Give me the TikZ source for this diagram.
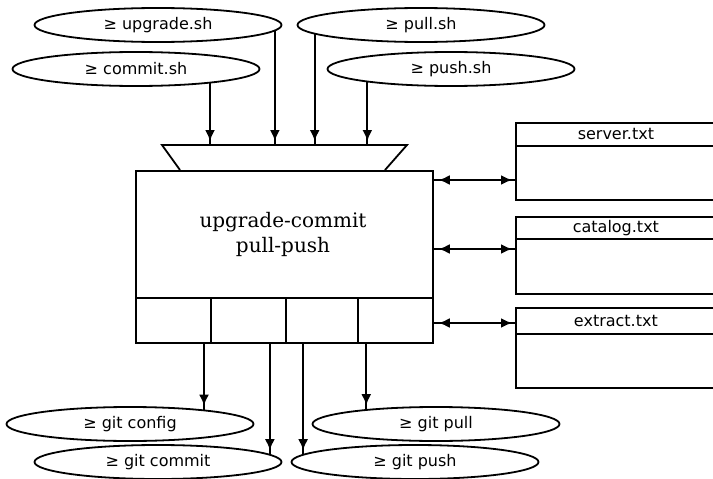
\documentclass[tikz,border=0pt]{standalone}
\usepackage{fontspec}
\usetikzlibrary{shapes.geometric,arrows.meta}
\newfontfamily\lblfont{DejaVu Sans}
\newfontfamily\titlefont{DejaVu Serif}
\begin{document}
\begin{tikzpicture}[x=1pt,y=-1pt,line width=1.8pt,
  script/.style={ellipse,draw,minimum width=247pt,minimum height=34pt,inner sep=0pt,
    font=\lblfont\fontsize{16}{18}\selectfont},
  box/.style={draw,rectangle,inner sep=0pt,anchor=north west},
  cell/.style={box,minimum height=45pt},
  hdr/.style={box,minimum width=200pt,font=\lblfont\fontsize{16}{18}\selectfont},
  body/.style={box,minimum width=200pt},
  arr/.style={draw,postaction={draw,-{Latex[length=11pt,width=10pt]},shorten >=4pt}},
  biarr/.style={draw,postaction={draw,{Latex[length=11pt,width=10pt]}-{Latex[length=11pt,width=10pt]},
    shorten <=5pt,shorten >=3pt}}]
\useasboundingbox (0,0) rectangle (713,479);
\clip (0,0) rectangle (713,479);

% shell scripts feeding the tool
\node[script] (up) at (158,25) {≥ upgrade.sh};
\node[script] (cm) at (136,69) {≥ commit.sh};
\node[script] (pl) at (421,25) {≥ pull.sh};
\node[script] (ps) at (451,69) {≥ push.sh};

% main component with its input funnel and output cells
\node[box,minimum width=297pt,minimum height=127pt] (main) at (135,170) {};
\node[align=center,font=\titlefont\fontsize{20}{25}\selectfont] (title) at (283,234)
  {upgrade-commit\\pull-push};
\coordinate (tl) at (162,145);
\coordinate (tr) at (407,145);
\coordinate (bl) at (180,170);
\coordinate (br) at (385,170);
\draw (bl) -- (tl) -- (tr) -- (br);

\node[cell,minimum width=75pt] (c1) at (135,297) {};
\node[cell,minimum width=75pt] (c2) at (210,297) {};
\node[cell,minimum width=72pt] (c3) at (285,297) {};
\node[cell,minimum width=75pt] (c4) at (357,297) {};

% data files
\node[hdr,minimum height=23pt] (srvh) at (515,122) {server.txt};
\node[body,minimum height=54pt] (srvb) at (515,145) {};
\node[hdr,minimum height=22pt] (cath) at (515,216) {catalog.txt};
\node[body,minimum height=55pt] (catb) at (515,238) {};
\node[hdr,minimum height=26pt] (exth) at (515,307) {extract.txt};
\node[body,minimum height=54pt] (extb) at (515,333) {};

% git commands
\node[script] (gcfg) at (130,424) {≥ git config};
\node[script] (gcm)  at (158,462) {≥ git commit};
\node[script] (gpl)  at (436,424) {≥ git pull};
\node[script] (gps)  at (415,462) {≥ git push};

% scripts into the funnel
\draw[arr] (cm.-11.5) -- (cm.-11.5 |- tl);
\draw[arr] (up.-3.6) -- (up.-3.6 |- tl);
\draw[arr] (pl.-175.7) -- (pl.-175.7 |- tl);
\draw[arr] (ps.-171.4) -- (ps.-171.4 |- tl);

% reading and writing the data files
\draw[biarr] (main.east |- 0,180) -- (srvb.west |- 0,180);
\draw[biarr] (main.east |- 0,249) -- (catb.west |- 0,249);
\draw[biarr] (c4.east |- 0,323) -- (exth.west |- 0,323);

% cells out to the git commands
\draw[arr] (gcfg.11.3 |- c1.south) -- (gcfg.11.3);
\draw[arr] (gcm.4.5 |- c2.south) -- (gcm.4.5);
\draw[arr] (gps.176.3 |- c3.south) -- (gps.176.3);
\draw[arr] (gpl.168.2 |- c4.south) -- (gpl.168.2);
\end{tikzpicture}
\end{document}
